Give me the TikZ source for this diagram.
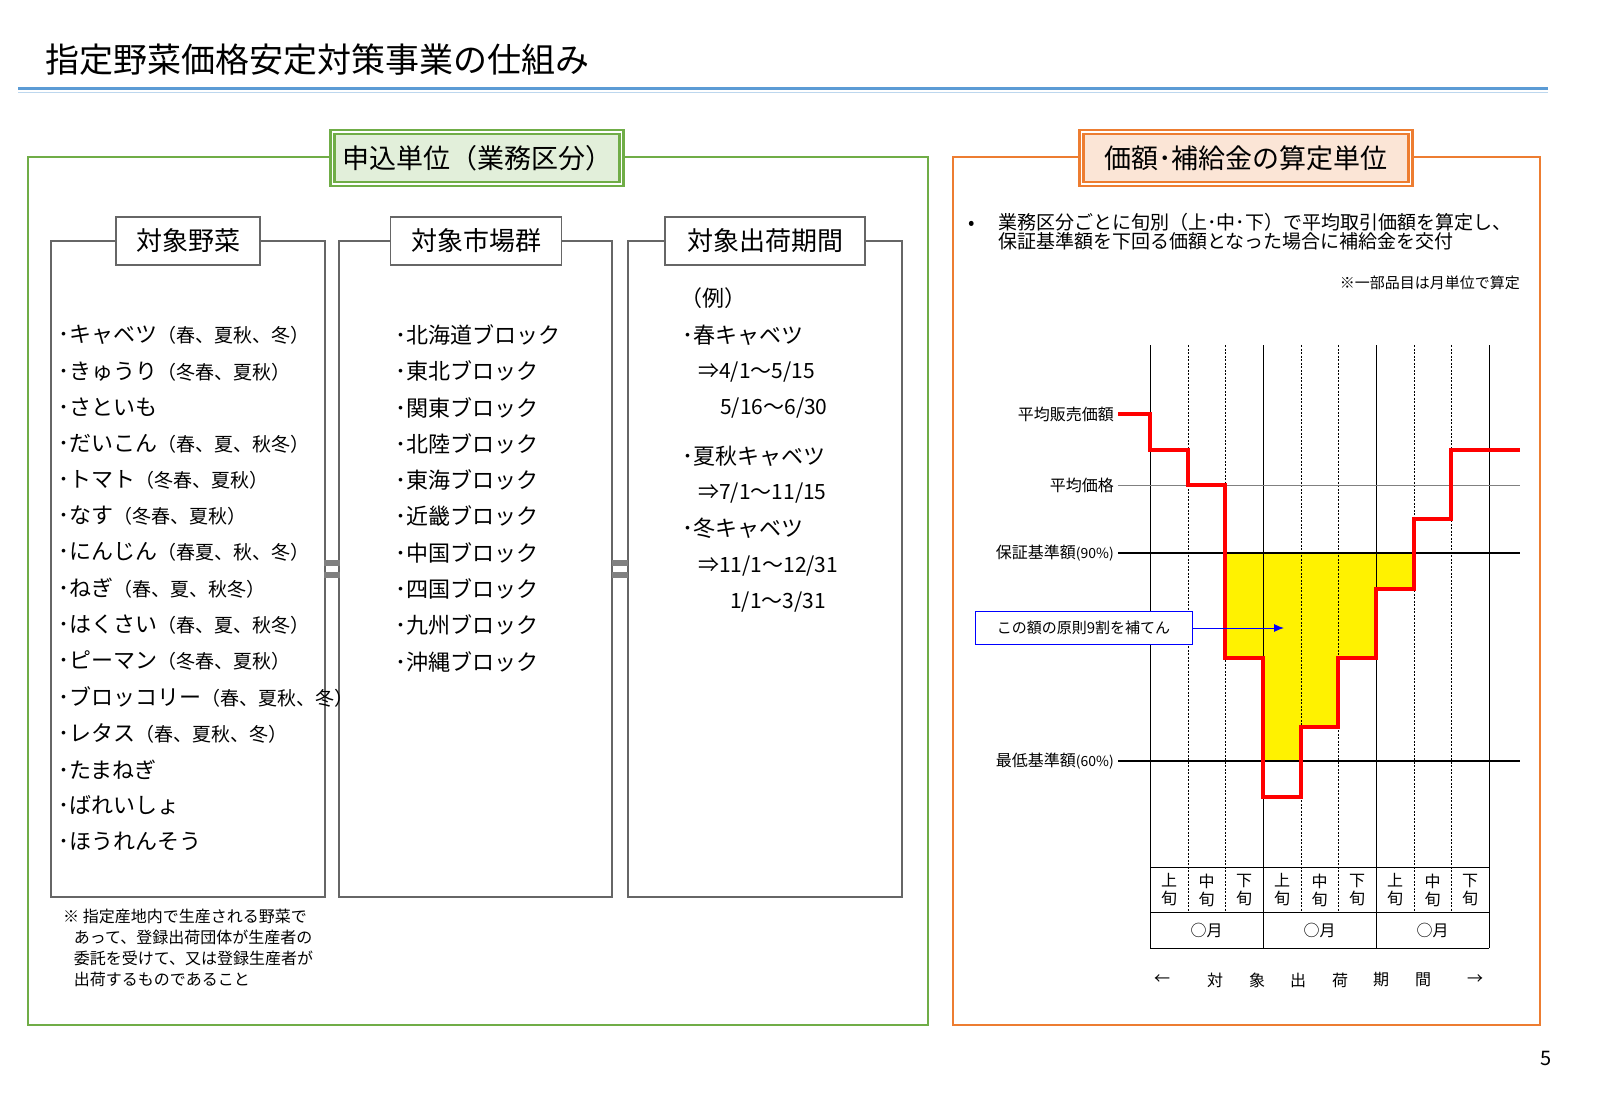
\documentclass[tikz,border=0pt]{standalone}
\usepackage{fontspec}
\setmainfont{Noto Sans CJK JP}
\usetikzlibrary{positioning,arrows.meta}
\definecolor{frgreen}{RGB}{112,173,71}
\definecolor{frorange}{RGB}{237,125,49}
\definecolor{hdgreen}{RGB}{226,239,218}
\definecolor{hdorange}{RGB}{251,229,214}
\definecolor{rulblue}{RGB}{91,155,213}
\newcommand{\fs}[1]{\fontsize{#1}{#1}\selectfont}
\tikzset{
  colbox/.style={draw=gray!80!black,line width=1.2pt},
  collabel/.style={draw=gray!80!black,fill=white,line width=1.2pt,minimum width=144pt,minimum height=48pt,font=\fs{26}},
  item/.style={anchor=west,font=\fs{22},inner sep=0pt},
  small/.style={font=\fs{16},inner sep=0pt},
  grid/.style={black,line width=1pt},
  sub/.style={black,dashed,dash pattern=on 2pt off 1.5pt,line width=0.8pt},
}
\begin{document}
\begin{tikzpicture}[x=1pt,y=-1pt]
\useasboundingbox (0,0) rectangle (1600,1108);
% title
\node[anchor=west,font=\fs{34}] (title) at (42,60) {指定野菜価格安定対策事業の仕組み};
\draw[rulblue,line width=3pt] (18,88) -- (1548,88);
\draw[rulblue!40,line width=1pt] (18,92) -- (1548,92);
% left panel
\draw[frgreen,line width=2.5pt] (28,157) rectangle (928,1025);
\node[draw=frgreen,line width=2.5pt,fill=hdgreen,minimum width=289pt,minimum height=52pt,font=\fs{27},double=white,double distance=1.5pt] (unit) at (477,158) {申込単位（業務区分）};
% three columns
\draw[colbox] (51,241) rectangle (325,897);
\draw[colbox] (339,241) rectangle (612,897);
\draw[colbox] (628,241) rectangle (902,897);
\node[collabel] (veg) at (188,241) {対象野菜};
\node[collabel,minimum width=171pt] (mkt) at (476,241) {対象市場群};
\node[collabel,minimum width=200pt] (prd) at (765,241) {対象出荷期間};
\foreach \x in {332,620}{
  \fill[gray] (\x-8,560) rectangle (\x+8,566);
  \fill[gray] (\x-8,572) rectangle (\x+8,578);
}
% vegetables
\foreach \t [count=\i from 0] in {
  {キャベツ{\fs{19}（春、夏秋、冬）}},{きゅうり{\fs{19}（冬春、夏秋）}},{さといも},
  {だいこん{\fs{19}（春、夏、秋冬）}},{トマト{\fs{19}（冬春、夏秋）}},{なす{\fs{19}（冬春、夏秋）}},
  {にんじん{\fs{19}（春夏、秋、冬）}},{ねぎ{\fs{19}（春、夏、秋冬）}},{はくさい{\fs{19}（春、夏、秋冬）}},
  {ピーマン{\fs{19}（冬春、夏秋）}},{ブロッコリー{\fs{19}（春、夏秋、冬）}},{レタス{\fs{19}（春、夏秋、冬）}},
  {たまねぎ},{ばれいしょ},{ほうれんそう}}
  \node[item] (v\i) at (58,335+36.2*\i) {･\t};
% markets
\foreach \t [count=\i from 0] in {北海道,東北,関東,北陸,東海,近畿,中国,四国,九州,沖縄}
  \node[item] (m\i) at (395,335+36.3*\i) {･\t ブロック};
% periods
\node[item] (p0) at (680,298) {（例）};
\node[item] (p1) at (682,335) {･春キャベツ};
\node[item,font=\fs{21}] (p2) at (698,372) {⇒4/1〜5/15};
\node[item,font=\fs{21}] (p3) at (720,408) {5/16〜6/30};
\node[item] (p4) at (682,456) {･夏秋キャベツ};
\node[item,font=\fs{21}] (p5) at (698,493) {⇒7/1〜11/15};
\node[item] (p6) at (682,528) {･冬キャベツ};
\node[item,font=\fs{21}] (p7) at (698,566) {⇒11/1〜12/31};
\node[item,font=\fs{21}] (p8) at (730,602) {1/1〜3/31};
% note
\node[anchor=north west,small,align=left] (note) at (63,909) {※ 指定産地内で生産される野菜で\\[5pt]\ \ \ あって、登録出荷団体が生産者の\\[5pt]\ \ \ 委託を受けて、又は登録生産者が\\[5pt]\ \ \ 出荷するものであること};
% right panel
\draw[frorange,line width=2.5pt] (953,157) rectangle (1540,1025);
\node[draw=frorange,line width=2.5pt,fill=hdorange,minimum width=329pt,minimum height=52pt,font=\fs{27},double=white,double distance=1.5pt] (calc) at (1246,158) {価額･補給金の算定単位};
\node[anchor=west,font=\fs{19},inner sep=0pt] (bul) at (968,225) {•};
\node[anchor=north west,font=\fs{19},inner sep=0pt,align=left] (desc) at (998,213) {業務区分ごとに旬別（上･中･下）で平均取引価額を算定し、\\保証基準額を下回る価額となった場合に補給金を交付};
\node[anchor=east,font=\fs{15},inner sep=0pt] (part) at (1520,283) {※一部品目は月単位で算定};
% chart
\fill[yellow] (1225,553) -- (1225,658) -- (1263,658) -- (1263,761) -- (1301,761) -- (1301,727) -- (1338,727) -- (1338,658) -- (1376,658) -- (1376,589) -- (1414,589) -- (1414,553) -- cycle;
\foreach \x in {1150,1263,1376,1489} \draw[grid] (\x,345) -- (\x,948);
\foreach \x in {1188,1225,1301,1338,1414,1451} \draw[sub] (\x,345) -- (\x,912);
\draw[grid] (1150,867) -- (1489,867);
\draw[grid] (1150,912) -- (1489,912);
\draw[grid] (1150,948) -- (1489,948);
\draw[gray,line width=1pt] (1118,485) -- (1520,485);
\draw[black,line width=2.2pt] (1118,553) -- (1520,553);
\draw[black,line width=2.2pt] (1118,761) -- (1520,761);
\draw[red,line width=3.5pt] (1118,414) -| (1150,450) -| (1188,485) -| (1225,658) -| (1263,797) -| (1301,727) -| (1338,658) -| (1376,589) -| (1414,519) -| (1451,450) -- (1520,450);
\node[anchor=east,small] (l1) at (1114,414) {平均販売価額};
\node[anchor=east,small] (l2) at (1114,485) {平均価格};
\node[anchor=east,small] (l3) at (1114,553) {保証基準額{\fs{14}(90\%)}};
\node[anchor=east,small] (l4) at (1114,761) {最低基準額{\fs{14}(60\%)}};
\node[draw=blue,line width=1pt,fill=white,minimum width=217pt,minimum height=33pt,font=\fs{15}] (box) at (1083.5,628) {この額の原則9割を補てん};
\coordinate (tip) at (1284,628);
\draw[blue,line width=1pt,-{Latex[length=10pt,width=8pt]}] (box.east) -- (tip);
\foreach \x in {1150,1263,1376}{
  \node[small,align=center] (a\x) at (\x+19,890) {上\\[2pt]旬};
  \node[small,align=center] (b\x) at (\x+56.5,890) {中\\[2pt]旬};
  \node[small,align=center] (c\x) at (\x+94,890) {下\\[2pt]旬};
  \node[small] (mo\x) at (\x+56.5,930) {○月};
}
\foreach \t/\x in {←/1162,対/1215,象/1257,出/1298,荷/1340,期/1381,間/1423,→/1475}
  \node[small] (ax\t) at (\x,980) {\t};
\node[font=\fs{20}] (page) at (1546,1058) {5};
\end{tikzpicture}
\end{document}
